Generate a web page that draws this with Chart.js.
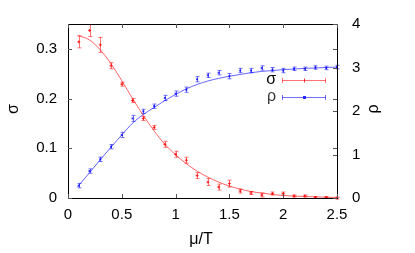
<!DOCTYPE html>
<html>
<head>
<meta charset="utf-8">
<script src="https://cdn.jsdelivr.net/npm/chart.js@4.4.0/dist/chart.umd.min.js"></script>
<style>
  html, body { margin: 0; padding: 0; background: #fff; }
  #wrap { width: 415px; height: 253px; }
</style>
</head>
<body>
<div id="wrap"><canvas id="c" width="415" height="253"></canvas></div>
<script>
// measured points (mu/T)
const muPts = [0.1, 0.2, 0.3, 0.4, 0.5, 0.6, 0.7, 0.8, 0.9, 1.0, 1.1, 1.2, 1.3,
               1.4, 1.5, 1.6, 1.7, 1.8, 1.9, 2.0, 2.1, 2.2, 2.3, 2.4, 2.5];
const sigmaVals = [0.314, 0.337, 0.308, 0.266, 0.229, 0.196, 0.160, 0.142, 0.108, 0.088, 0.076, 0.045, 0.032,
                   0.022, 0.029, 0.014, 0.010, 0.006, 0.009, 0.009, 0.004, 0.004, 0.001, 0.001, 0.000];
const sigmaErr = [0.012, 0.012, 0.015, 0.006, 0.004, 0.004, 0.004, 0.004, 0.006, 0.006, 0.006, 0.006, 0.007,
                  0.006, 0.007, 0.004, 0.003, 0.004, 0.003, 0.003, 0.002, 0.002, 0.002, 0.002, 0.002];
const rhoVals = [0.285, 0.62, 0.89, 1.18, 1.45, 1.83, 1.99, 2.11, 2.30, 2.40, 2.49, 2.73, 2.82,
                 2.88, 2.80, 2.93, 2.93, 2.99, 2.95, 2.93, 2.97, 2.97, 3.00, 2.99, 3.01];
const rhoErr = [0.05, 0.05, 0.05, 0.05, 0.06, 0.07, 0.05, 0.05, 0.06, 0.06, 0.06, 0.06, 0.05,
                0.05, 0.06, 0.05, 0.05, 0.05, 0.05, 0.05, 0.04, 0.04, 0.04, 0.04, 0.04];

// fit curves
const fitMu = [0.09, 0.2, 0.3, 0.4, 0.5, 0.6, 0.7, 0.8, 0.9, 1.0, 1.1, 1.2, 1.3,
               1.4, 1.5, 1.6, 1.7, 1.8, 1.9, 2.0, 2.2, 2.5];
const sigmaFit = [0.327, 0.318, 0.298, 0.270, 0.236, 0.200, 0.166, 0.135, 0.108, 0.087, 0.069, 0.054, 0.042,
                  0.032, 0.024, 0.018, 0.013, 0.010, 0.007, 0.005, 0.003, 0.001];
const rhoFit = [0.26, 0.58, 0.88, 1.17, 1.45, 1.72, 1.92, 2.08, 2.24, 2.38, 2.51, 2.61, 2.69,
                2.75, 2.80, 2.84, 2.88, 2.91, 2.93, 2.95, 2.98, 3.01];

const xTicks = [0, 0.5, 1, 1.5, 2, 2.5];
const yTicks = [0, 0.1, 0.2, 0.3];
const y2Ticks = [0, 1, 2, 3, 4];

const RED = 'rgb(255,0,0)';
const BLUE = 'rgb(0,0,255)';
const FONT = '"Liberation Sans", Arial, sans-serif';

const toXY = (xs, ys) => xs.map((x, i) => ({ x: x, y: ys[i] }));

// error bars, frame, inward ticks, titles, legend
const gnuplotLook = {
  id: 'gnuplotLook',
  beforeDatasetsDraw(chart) {
    const ctx = chart.ctx;
    const xs = chart.scales.x;
    const drawBars = (vals, errs, scale, color) => {
      ctx.save();
      ctx.strokeStyle = color;
      ctx.globalAlpha = 0.55;
      ctx.lineWidth = 1;
      muPts.forEach((m, i) => {
        const px = Math.round(xs.getPixelForValue(m)) + 0.5;
        const lo = scale.getPixelForValue(vals[i] - errs[i]);
        const hi = scale.getPixelForValue(vals[i] + errs[i]);
        ctx.beginPath();
        ctx.moveTo(px, lo); ctx.lineTo(px, hi);
        ctx.moveTo(px - 2, lo); ctx.lineTo(px + 2, lo);
        ctx.moveTo(px - 2, hi); ctx.lineTo(px + 2, hi);
        ctx.stroke();
      });
      ctx.restore();
    };
    drawBars(sigmaVals, sigmaErr, chart.scales.y, RED);
    drawBars(rhoVals, rhoErr, chart.scales.y2, BLUE);
  },
  afterDraw(chart) {
    const ctx = chart.ctx;
    const a = chart.chartArea;
    const xs = chart.scales.x, ys = chart.scales.y, y2s = chart.scales.y2;
    ctx.save();
    ctx.strokeStyle = '#000';
    ctx.lineWidth = 1;
    ctx.strokeRect(Math.round(a.left) + 0.5, Math.round(a.top) + 0.5,
                   Math.round(a.right - a.left), Math.round(a.bottom - a.top));
    const tl = 4;
    ctx.strokeStyle = '#555';
    ctx.beginPath();
    xTicks.forEach(v => {
      const px = Math.round(xs.getPixelForValue(v)) + 0.5;
      ctx.moveTo(px, a.bottom); ctx.lineTo(px, a.bottom - tl);
      ctx.moveTo(px, a.top); ctx.lineTo(px, a.top + tl);
    });
    yTicks.forEach(v => {
      const py = Math.round(ys.getPixelForValue(v)) + 0.5;
      ctx.moveTo(a.left, py); ctx.lineTo(a.left + tl, py);
      ctx.moveTo(a.right, py); ctx.lineTo(a.right - tl, py);
    });
    y2Ticks.forEach(v => {
      const py = Math.round(y2s.getPixelForValue(v)) + 0.5;
      ctx.moveTo(a.right, py); ctx.lineTo(a.right - tl, py);
    });
    ctx.stroke();

    // axis titles
    ctx.fillStyle = '#000';
    ctx.font = '16px ' + FONT;
    ctx.textAlign = 'center';
    ctx.textBaseline = 'middle';
    ctx.fillText('\u03bc/T', 201, 240);
    ctx.save();
    ctx.translate(14, 109);
    ctx.rotate(-Math.PI / 2);
    ctx.fillText('\u03c3', 0, 0);
    ctx.restore();
    ctx.save();
    ctx.translate(374, 109);
    ctx.rotate(-Math.PI / 2);
    ctx.fillText('\u03c1', 0, 0);
    ctx.restore();

    // legend
    const legend = [['\u03c3', RED, 80, 'cross'], ['\u03c1', BLUE, 97, 'rect']];
    legend.forEach(([label, color, y, mark]) => {
      ctx.fillStyle = '#000';
      ctx.textAlign = 'right';
      ctx.fillText(label, 276, y);
      ctx.strokeStyle = color;
      ctx.fillStyle = color;
      ctx.globalAlpha = 0.55;
      ctx.beginPath();
      ctx.moveTo(282, y + 0.5); ctx.lineTo(326, y + 0.5);
      ctx.moveTo(282.5, y - 2); ctx.lineTo(282.5, y + 3);
      ctx.moveTo(325.5, y - 2); ctx.lineTo(325.5, y + 3);
      ctx.stroke();
      ctx.globalAlpha = 0.8;
      if (mark === 'rect') {
        ctx.fillRect(303, y - 1, 3, 3);
      } else {
        ctx.beginPath();
        ctx.moveTo(304.5, y - 1.5); ctx.lineTo(304.5, y + 2.5);
        ctx.stroke();
      }
    });
    ctx.restore();
  }
};

new Chart(document.getElementById('c'), {
  type: 'scatter',
  data: {
    datasets: [
      {
        label: 'sigma fit', data: toXY(fitMu, sigmaFit), yAxisID: 'y',
        showLine: true, borderColor: 'rgba(255,0,0,0.6)', borderWidth: 1,
        pointRadius: 0, cubicInterpolationMode: 'monotone'
      },
      {
        label: 'rho fit', data: toXY(fitMu, rhoFit), yAxisID: 'y2',
        showLine: true, borderColor: 'rgba(0,0,255,0.6)', borderWidth: 1,
        pointRadius: 0, cubicInterpolationMode: 'monotone'
      },
      {
        label: '\u03c3', data: toXY(muPts, sigmaVals), yAxisID: 'y',
        pointStyle: 'cross', pointRadius: 1.5, borderColor: 'rgba(255,0,0,0.8)', borderWidth: 1,
        backgroundColor: RED
      },
      {
        label: '\u03c1', data: toXY(muPts, rhoVals), yAxisID: 'y2',
        pointStyle: 'rect', pointRadius: 1.4, borderColor: 'rgba(0,0,255,0.8)', borderWidth: 0,
        backgroundColor: 'rgba(0,0,255,0.8)'
      }
    ]
  },
  options: {
    responsive: false,
    animation: false,
    clip: false,
    layout: { padding: { top: 20, left: 0, right: 0, bottom: 0 } },
    plugins: { legend: { display: false }, tooltip: { enabled: false } },
    scales: {
      x: {
        type: 'linear', min: 0, max: 2.5,
        grid: { display: false, drawTicks: false }, border: { display: false },
        afterBuildTicks: s => { s.ticks = xTicks.map(v => ({ value: v })); },
        afterFit: s => { s.height = 55; },
        ticks: { padding: 8, color: '#000', font: { family: FONT, size: 15 }, maxRotation: 0,
                 callback: v => String(v) }
      },
      y: {
        type: 'linear', position: 'left', min: 0, max: 0.35,
        grid: { display: false, drawTicks: false }, border: { display: false },
        afterBuildTicks: s => { s.ticks = yTicks.map(v => ({ value: v })); },
        afterFit: s => { s.width = 68; },
        ticks: { padding: 11, color: '#000', font: { family: FONT, size: 15 },
                 callback: v => String(v) }
      },
      y2: {
        type: 'linear', position: 'right', min: 0, max: 4,
        grid: { display: false, drawTicks: false }, border: { display: false },
        afterBuildTicks: s => { s.ticks = y2Ticks.map(v => ({ value: v })); },
        afterFit: s => { s.width = 78; },
        ticks: { padding: 15, color: '#000', font: { family: FONT, size: 15 },
                 callback: v => String(v) }
      }
    }
  },
  plugins: [gnuplotLook]
});
</script>
</body>
</html>
